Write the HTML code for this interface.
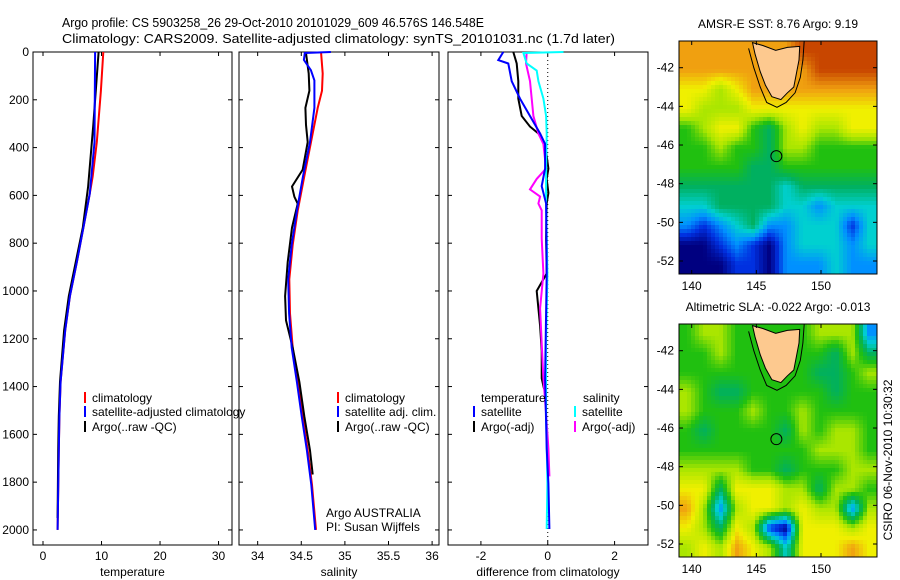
<!DOCTYPE html>
<html><head><meta charset="utf-8">
<style>
html,body{margin:0;padding:0;background:#fff;}
svg{display:block;font-family:"Liberation Sans",Arial,sans-serif;}
</style></head>
<body>
<svg id="fig" width="900" height="580" viewBox="0 0 900 580" xmlns="http://www.w3.org/2000/svg">
<rect x="0" y="0" width="900" height="580" fill="#fff"/>
<text x="62" y="27" font-size="13" textLength="422" lengthAdjust="spacingAndGlyphs">Argo profile: CS 5903258_26 29-Oct-2010 20101029_609 46.576S 146.548E</text>
<text x="62" y="43" font-size="13" textLength="553" lengthAdjust="spacingAndGlyphs">Climatology: CARS2009. Satellite-adjusted climatology: synTS_20101031.nc (1.7d later)</text>
<g id="layer"></g>
</svg>
<script>
// ---------- profile data ----------
const tClimDepth=[0,162,377,520,592,735,878,1022,1165,1380,1524,1667,2000];
const tClim=[10.3,9.9,9.2,8.5,8.0,6.9,5.8,4.6,3.8,3.0,2.8,2.7,2.5];
const tSatDepth=[0,377,592,735,878,1022,1165,1380,1524,1667,2000];
const tSat=[8.9,8.8,8.0,6.9,5.8,4.6,3.8,3.0,2.8,2.7,2.5];
const tArgoDepth=[0,305,564,735,878,1022,1165,1380,1524,1667,1950];
const tArgo=[9.5,8.6,7.7,6.8,5.6,4.4,3.6,2.9,2.7,2.6,2.5];

const sClimDepth=[4,90,162,234,377,520,664,807,951,1094,1237,1381,1524,1667,1811,2000];
const sClim=[34.727,34.746,34.738,34.688,34.612,34.535,34.459,34.402,34.363,34.371,34.402,34.459,34.516,34.574,34.623,34.669];
const sSatDepth=[0,4,33,76,119,234,377,520,664,807,951,1094,1237,1381,1524,1667,1811,2000];
const sSat=[34.84,34.54,34.53,34.61,34.65,34.65,34.60,34.52,34.45,34.39,34.35,34.36,34.39,34.45,34.505,34.565,34.615,34.66];
const sArgoDepth=[4,90,162,234,305,377,492,563,606,635,735,879,1022,1123,1237,1381,1524,1667,1768];
const sArgo=[34.554,34.585,34.593,34.547,34.554,34.574,34.516,34.394,34.421,34.459,34.394,34.344,34.314,34.325,34.402,34.478,34.535,34.600,34.631];

const dTSatDepth=[0,34,48,122,195,268,341,385,488,561,634,927,1366,1659,1805,1996];
const dTSat=[-1.33,-1.48,-1.18,-1.08,-0.83,-0.53,-0.23,-0.08,-0.08,-0.18,-0.05,-0.03,-0.08,-0.03,0.02,0.05];
const dTArgoDepth=[0,48,122,195,268,312,341,385,488,531,590,634,780,927,1000,1073,1146,1249,1366,1410];
const dTArgo=[-1.03,-0.93,-0.88,-0.88,-0.78,-0.53,-0.28,-0.08,0.02,-0.03,0.02,-0.03,-0.05,-0.03,-0.33,-0.28,-0.23,-0.18,-0.18,-0.11];
const dSArgoDepth=[0,48,122,195,268,341,385,488,531,575,605,634,663,780,927,1073,1220,1366,1512,1659,1776];
const dSArgo=[-0.63,-0.65,-0.53,-0.48,-0.43,-0.28,-0.13,-0.05,-0.33,-0.53,-0.23,-0.28,-0.18,-0.18,-0.13,-0.23,-0.18,-0.13,-0.05,0.02,0.05];
const dSSatDepth=[0,4,48,78,122,195,268,341,488,634,927,1220,1512,1805,1996];
const dSSat=[0.47,-0.73,-0.63,-0.33,-0.28,-0.13,-0.05,-0.03,-0.05,-0.05,-0.01,-0.05,-0.05,-0.01,-0.03];

const depthTicks=[0,200,400,600,800,1000,1200,1400,1600,1800,2000];
const tempTicks=[0,10,20,30];
const salTicks=[34,34.5,35,35.5,36];
const diffTicks=[-2,0,2];

// ---------- map data (rows lat -41..-52, cols lon 139.6..153.7) ----------
const sstGrid=[
[8,8,8,8,8,8,8,9,9,9,9,9],
[8,8,8,8,8,8,8,8,9,9,9,9],
[7,7,6,7,8,8,8,8,8,8,8,8],
[7,6,6,6,7,7,7,7,7,7,7,7],
[5,6,7,7,5,4,6,7,6,6,7,7],
[5,5,6,5,5,4,6,6,5,5,5,5],
[5,5,5,5,4,4,5,5,5,5,5,5],
[4,4,4,4,4,4,3,4,4,4,4,4],
[3,3,4,4,4,4,3,3,2,3,3,3],
[2,1,2,3,4,2,2,3,3,3,1,3],
[0,0,1,2,1,0,2,3,3,3,2,3],
[0,0,0,1,1,0,2,2,2,3,2,2]];
const slaGrid=[
[5,6,6,5,5,5,5,5,6,6,6,2],
[5,5,6,5,5,5,5,5,5,4,6,4],
[5,5,5,5,5,5,5,5,4,4,5,6],
[6,5,4,4,5,5,5,5,5,4,5,5],
[6,5,5,5,6,5,5,6,5,5,5,5],
[5,4,5,5,5,5,4,6,5,6,6,5],
[5,5,5,5,5,5,5,5,6,6,6,5],
[6,6,6,6,5,5,4,5,5,5,6,6],
[7,7,4,7,7,7,6,6,4,6,6,5],
[8,6,2,6,7,7,6,7,6,6,2,6],
[7,6,4,7,6,1,0,7,7,7,6,7],
[6,7,6,8,7,6,3,7,7,7,8,7]];
const lonTicks=[140,145,150];
const latTicks=[-42,-44,-46,-48,-50,-52];
const tasLon=[144.7,145.5,146.5,147.4,148.35,148.3,148.1,147.9,147.4,146.9,146.2,145.7,145.3,144.9];
const tasLat=[-40.7,-40.85,-41.1,-40.95,-40.9,-41.6,-42.3,-43.0,-43.3,-43.65,-43.5,-42.9,-42.2,-41.3];
const isoLon=[144.0,145.0,145.9,146.8,147.7,148.7,148.6,148.4,148.0,147.3,146.6,145.8,145.3,144.8,144.4];
const isoLat=[-40.6,-40.6,-40.6,-40.6,-40.6,-40.6,-41.6,-42.5,-43.3,-43.8,-44.05,-43.8,-43.0,-42.0,-41.0];
const argoLon=146.548, argoLat=-46.576;

const NS='http://www.w3.org/2000/svg';
const layer=document.getElementById('layer');
function mk(tag,attrs,parent){const e=document.createElementNS(NS,tag);for(const k in attrs)e.setAttribute(k,attrs[k]);(parent||layer).appendChild(e);return e;}
function lin(d0,d1,r0,r1){return v=>r0+(v-d0)*(r1-r0)/(d1-d0);}

function panel(name,x0,x1,xmin,xmax,xticks,xlabel,showY){
  const g=mk('g',{});
  
  
  const y0=52,y1=545;
  const sx=lin(xmin,xmax,x0,x1), sy=lin(0,2063,y0,y1);
  const box=mk('rect',{x:x0,y:y0,width:x1-x0,height:y1-y0,fill:'none',stroke:'#000','stroke-width':1},g);
  
  
  depthTicks.forEach(d=>{
    const y=sy(d);
    mk('line',{x1:x0,x2:x0+4,y1:y,y2:y,stroke:'#000'},g);
    mk('line',{x1:x1,x2:x1-4,y1:y,y2:y,stroke:'#000'},g);
    if(showY){const t=mk('text',{x:x0-4,y:y+4,'font-size':12,'text-anchor':'end'},g);t.textContent=d;
      
      }
  });
  xticks.forEach(v=>{
    const x=sx(v);
    mk('line',{x1:x,x2:x,y1:y1,y2:y1-4,stroke:'#000'},g);
    mk('line',{x1:x,x2:x,y1:y0,y2:y0+4,stroke:'#000'},g);
    const t=mk('text',{x:x,y:y1+15,'font-size':12,'text-anchor':'middle'},g);t.textContent=v;
    
    
  });
  const xl=mk('text',{x:(x0+x1)/2,y:576,'font-size':12,'text-anchor':'middle'},g);xl.textContent=xlabel;
  
  
  return {g,sx,sy};
}
function series(p,name,depths,vals,color){
  const pts=vals.map((v,i)=>p.sx(v).toFixed(1)+','+p.sy(depths[i]).toFixed(1)).join(' ');
  const l=mk('polyline',{points:pts,fill:'none',stroke:color,'stroke-width':2},p.g);
  
  
}
function legend(g,x,y,color,label,name){
  mk('rect',{x:x,y:y-10,width:2,height:11,fill:color},g);
  const t=mk('text',{x:x+8,y:y,'font-size':12},g);t.textContent=label;
  
  
}

const p1=panel('temperature-panel',33,232,-1.71,32.3,tempTicks,'temperature',true);
series(p1,'temp-climatology-line',tClimDepth,tClim,'#ff0000');
series(p1,'temp-argo-line',tArgoDepth,tArgo,'#000000');
series(p1,'temp-satellite-line',tSatDepth,tSat,'#0000ff');
legend(p1.g,84,402,'#f00','climatology','legend-climatology');
legend(p1.g,84,416,'#00f','satellite-adjusted climatology','legend-satellite');
legend(p1.g,84,431,'#000','Argo(..raw -QC)','legend-argo');

const p2=panel('salinity-panel',239,439,33.786,36.079,salTicks,'salinity',false);
series(p2,'sal-climatology-line',sClimDepth,sClim,'#ff0000');
series(p2,'sal-argo-line',sArgoDepth,sArgo,'#000000');
series(p2,'sal-satellite-line',sSatDepth,sSat,'#0000ff');
legend(p2.g,337,402,'#f00','climatology','legend-climatology');
legend(p2.g,337,416,'#00f','satellite adj. clim.','legend-satellite');
legend(p2.g,337,431,'#000','Argo(..raw -QC)','legend-argo');
{const a=mk('text',{x:326,y:517,'font-size':12},p2.g);a.textContent='Argo AUSTRALIA';


const b=mk('text',{x:326,y:531,'font-size':12},p2.g);b.textContent='PI: Susan Wijffels';

}

// clip hack: top spike in line beyond box isn't needed
const p3=panel('difference-panel',448,648,-2.985,3.0,diffTicks,'difference from climatology',false);
{const z=p3.sx(0);mk('line',{x1:z,x2:z,y1:52,y2:545,stroke:'#000','stroke-dasharray':'1,3'},p3.g);}
series(p3,'diff-temp-argo-line',dTArgoDepth,dTArgo,'#000000');
series(p3,'diff-sal-argo-line',dSArgoDepth,dSArgo,'#ff00ff');
series(p3,'diff-sal-satellite-line',dSSatDepth,dSSat,'#00ffff');
series(p3,'diff-temp-satellite-line',dTSatDepth,dTSat,'#0000ff');
{const t=mk('text',{x:481,y:402,'font-size':12},p3.g);t.textContent='temperature';


const s=mk('text',{x:583,y:402,'font-size':12},p3.g);s.textContent='salinity';

}
legend(p3.g,473,416,'#00f','satellite','legend-temp-satellite');
legend(p3.g,473,431,'#000','Argo(-adj)','legend-temp-argo');
legend(p3.g,574,416,'#0ff','satellite','legend-sal-satellite');
legend(p3.g,574,431,'#f0f','Argo(-adj)','legend-sal-argo');

// ---------- maps ----------
const palette=[[0,0,128],[0,48,224],[0,144,255],[0,208,208],[0,176,96],[32,192,16],[170,230,0],[240,240,0],[240,160,16],[200,70,0]];
function col(v){v=Math.max(0,Math.min(9,v));const i=Math.min(8,Math.floor(v)),f=v-i;const a=palette[i],b=palette[i+1];
  return 'rgb('+a.map((c,k)=>Math.round(c+(b[k]-c)*f)).join(',')+')';}
function mapPanel(name,top,grid,title,tname){
  const x0=679,x1=877,y0=top,y1=top+233;
  const g=mk('g',{});
  
  
  const sx=lin(140,150,691.7,821), sy=lin(-42,-52,y0+26.7,y0+220);
  const R=grid.length,C=grid[0].length, step=4;
  for(let py=y0;py<y1;py+=step){for(let px=x0;px<x1;px+=step){
    const gx=(px+step/2-x0)/(x1-x0)*C-0.5, gy=(py+step/2-y0)/(y1-y0)*R-0.5;
    const cx=Math.max(0,Math.min(C-1.001,gx)), cy=Math.max(0,Math.min(R-1.001,gy));
    const i=Math.floor(cx),j=Math.floor(cy),fx=cx-i,fy=cy-j;
    const v=grid[j][i]*(1-fx)*(1-fy)+grid[j][i+1]*fx*(1-fy)+grid[j+1][i]*(1-fx)*fy+grid[j+1][i+1]*fx*fy;
    const r=mk('rect',{x:px,y:py,width:Math.min(step,x1-px),height:Math.min(step,y1-py),fill:col(v)},g);
    
    
  }}
  const iso=mk('polyline',{points:isoLon.map((l,k)=>sx(l).toFixed(1)+','+Math.max(y0,sy(isoLat[k])).toFixed(1)).join(' '),fill:'none',stroke:'#000','stroke-width':1},g);
  
  
  const tas=mk('polygon',{points:tasLon.map((l,k)=>sx(l).toFixed(1)+','+Math.max(y0,sy(tasLat[k])).toFixed(1)).join(' '),fill:'#fdc98f',stroke:'#000','stroke-width':1},g);
  
  
  const c=mk('circle',{cx:sx(argoLon),cy:sy(argoLat),r:5.5,fill:'none',stroke:'#000','stroke-width':1},g);
  
  
  mk('rect',{x:x0,y:y0,width:x1-x0,height:y1-y0,fill:'none',stroke:'#000'},g);
  lonTicks.forEach(v=>{const x=sx(v);
    mk('line',{x1:x,x2:x,y1:y1,y2:y1-4,stroke:'#000'},g);mk('line',{x1:x,x2:x,y1:y0,y2:y0+4,stroke:'#000'},g);
    const t=mk('text',{x:x,y:y1+16,'font-size':12,'text-anchor':'middle'},g);t.textContent=v;
    
    });
  latTicks.forEach(v=>{const y=sy(v);
    mk('line',{x1:x0,x2:x0+4,y1:y,y2:y,stroke:'#000'},g);mk('line',{x1:x1,x2:x1-4,y1:y,y2:y,stroke:'#000'},g);
    const t=mk('text',{x:x0-5,y:y+4,'font-size':12,'text-anchor':'end'},g);t.textContent=v;
    
    });
  const tt=mk('text',{x:(x0+x1)/2,y:y0-13,'font-size':12,'text-anchor':'middle'},g);tt.textContent=title;
  
  
}
mapPanel('sst-map',41,sstGrid,'AMSR-E SST: 8.76 Argo: 9.19','sst-map-title');
mapPanel('sla-map',324,slaGrid,'Altimetric SLA: -0.022 Argo: -0.013','sla-map-title');
{const t=mk('text',{x:0,y:0,'font-size':12,'text-anchor':'middle',transform:'translate(892,460) rotate(-90)'});t.textContent='CSIRO 06-Nov-2010 10:30:32';

}
</script>
</body></html>
